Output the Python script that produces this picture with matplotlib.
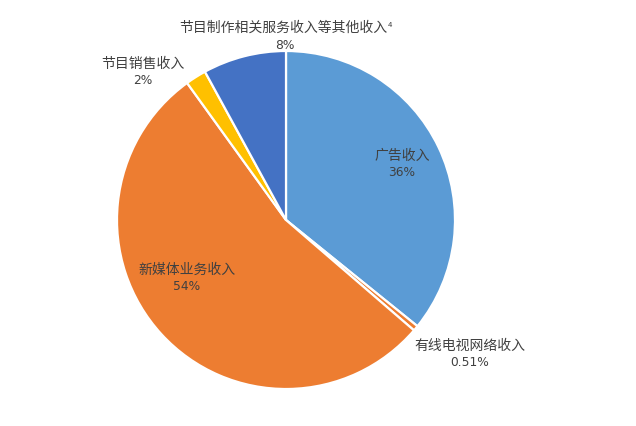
import matplotlib
matplotlib.use("Agg")
import matplotlib.pyplot as plt

plt.rcParams['font.family'] = ['Noto Sans CJK SC', 'DejaVu Sans']

categories = ['广告收入', '有线电视网络收入', '新媒体业务收入', '节目销售收入', '节目制作相关服务收入等其他收入']
values = [36, 0.51, 54, 2, 8]
pct_labels = ['36%', '0.51%', '54%', '2%', '8%']
colors = ['#5B9BD5', '#ED7D31', '#ED7D31', '#FFC000', '#4472C4']

W, H = 636, 427
cx, cy, R = 286, 221, 169

fig = plt.figure(figsize=(W / 100, H / 100), dpi=100)
ax = fig.add_axes([0, 0, 1, 1])
ax.axis('off')

ax.pie(values, colors=colors, startangle=90, counterclock=False, radius=1,
       wedgeprops=dict(edgecolor='white', linewidth=1.6))
ax.set_xlim(-cx / R, (W - cx) / R)
ax.set_ylim(-(H - cy) / R, cy / R)
ax.set_aspect('auto')

def d(px, py):
    return (px - cx) / R, (cy - py) / R

# label pixel positions (name center, pct center)
label_pos = [
    ((402, 156), (402, 172)),
    ((470, 346), (470, 362)),
    ((187, 270), (187, 287)),
    ((143, 64), (143, 80)),
    ((283, 28), (285, 45)),
]
tc = '#404040'
for cat, pct, (npos, ppos) in zip(categories, pct_labels, label_pos):
    x, y = d(*npos)
    ax.text(x, y, cat, ha='center', va='center', fontsize=10, color=tc)
    x, y = d(*ppos)
    ax.text(x, y, pct, ha='center', va='center', fontsize=8.8, color=tc,
            family=['DejaVu Sans'])

x, y = d(388, 25)
ax.text(x, y, '4', ha='left', va='center', fontsize=5.5, color=tc)

fig.savefig('out.png', dpi=100, facecolor='white')
